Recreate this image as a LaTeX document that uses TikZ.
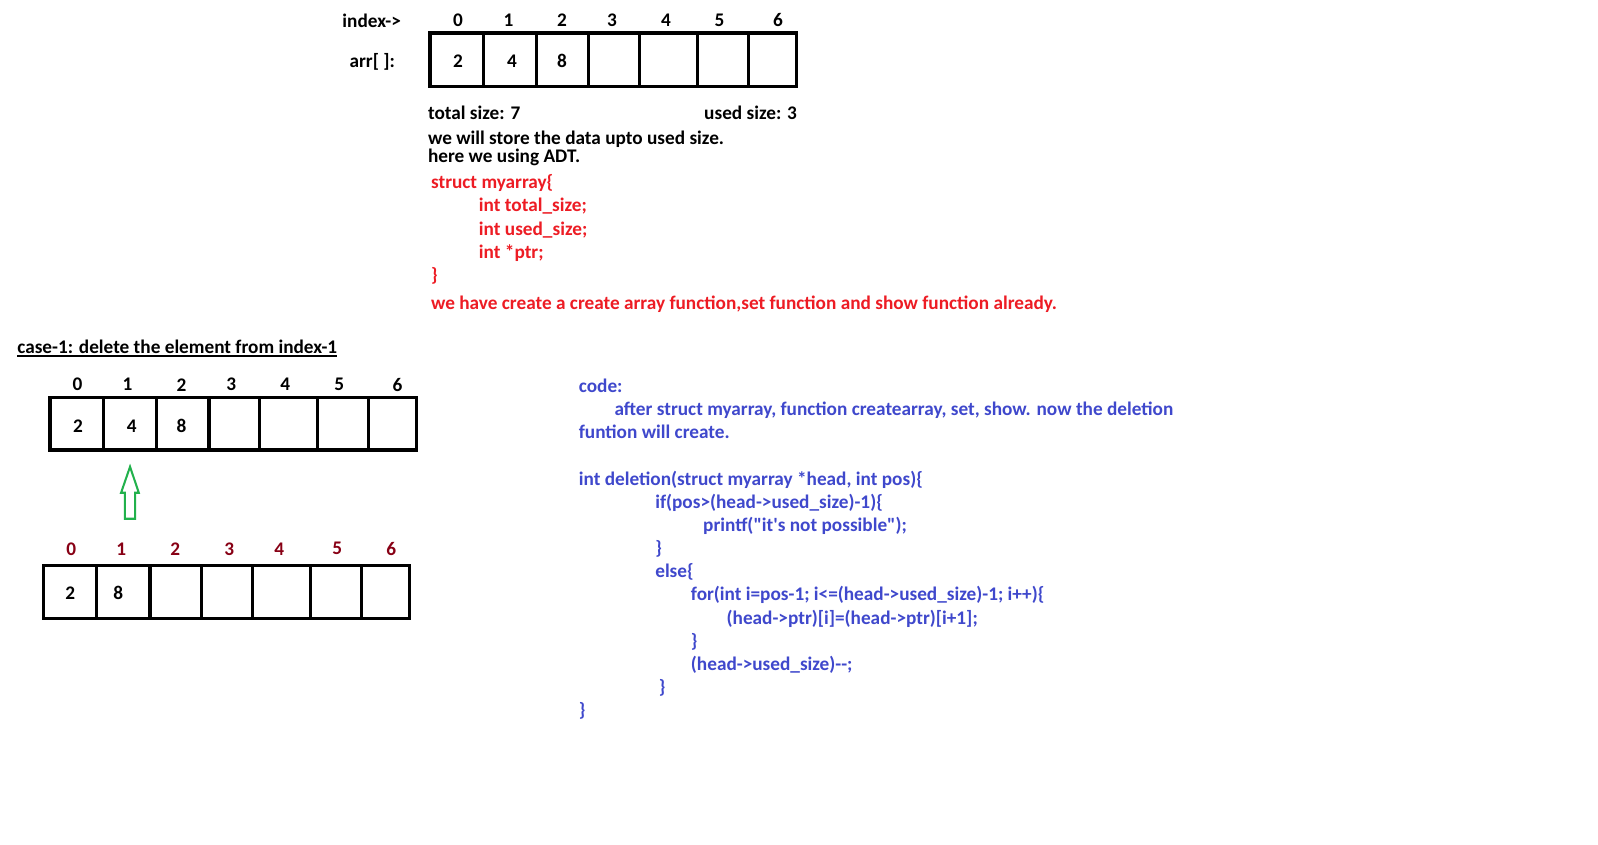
\documentclass[tikz,border=0pt]{standalone}
\usepackage{fontspec}
\newfontfamily\cb{Carlito}
\definecolor{pred}{RGB}{237,28,36}
\definecolor{pblue}{RGB}{63,72,204}
\definecolor{pdred}{RGB}{136,0,21}
\definecolor{pgreen}{RGB}{34,177,76}
\tikzset{
  every node/.style={inner sep=0pt, outer sep=0pt, font=\cb\fontsize{18.9}{22}\selectfont\bfseries},
  txt/.style={anchor=base west, yshift=-1.2pt},
  dig/.style={anchor=center},
  arrbox/.style={draw=black, line width=3.2pt},
  divline/.style={draw=black, line width=3pt},
  redtxt/.style={txt, text=pred},
  bluetxt/.style={txt, text=pblue},
  dredtxt/.style={dig, text=pdred},
}
\begin{document}
\begin{tikzpicture}[x=1pt,y=-1pt]
\useasboundingbox[fill=white] (0,0) rectangle (1568,829);

% ---------- top array ----------
\node[txt] (idxlbl) at (336,25.5) {index->};
\node[txt] (arrlbl) at (343,65) {arr[ ]:};
\foreach \x/\n in {449.5/0,499/1,551.5/2,600.6/3,653.6/4,706/5,763.5/6}{
  \node[dig] (ti\n) at (\x,19.5) {\n};
}
\draw[arrbox] (422,32.4) rectangle (781.8,85.1);
\foreach \x in {474.3,526.3,577.3,627.8,684.5,734.8}{
  \draw[divline] (\x,32.4) -- (\x,85.1);
}
\node[dig] (tv0) at (449.5,60) {2};
\node[dig] (tv1) at (502.5,60) {4};
\node[dig] (tv2) at (551.5,60) {8};

\node[txt] (tsize) at (420,116.5) {total size: 7};
\node[txt] (usize) at (691,116.5) {used size: 3};
\node[txt] (store) at (420,141) {we will store the data upto used size.};
\node[txt] (adt) at (420,158.5) {here we using ADT.};

\node[redtxt] (s1) at (423,184) {struct myarray\{};
\node[redtxt] (s2) at (470,206.8) {int total\_size;};
\node[redtxt] (s3) at (470,229.5) {int used\_size;};
\node[redtxt] (s4) at (470,252.3) {int *ptr;};
\node[redtxt] (s5) at (423,275) {\}};
\node[redtxt] (s6) at (423,302) {we have create a create array function,set function and show function already.};

% ---------- case 1 ----------
\node[txt] (case) at (17,345.5) {case-1: delete the element from index-1};
\draw[line width=1.4pt] (17,349.5) -- (330.4,349.5);

\foreach \x/\n in {76/0,125/1,178/2,227/3,280/4,333/5,390/6}{
  \node[dig] (mi\n) at (\x,377.5) {\n};
}
\draw[arrbox] (49,390.3) rectangle (408.9,441.6);
\foreach \x in {102,153.4,205.1,254.8,311.4,361.4}{
  \draw[divline] (\x,390.3) -- (\x,441.6);
}
\node[dig] (mv0) at (76.5,418) {2};
\node[dig] (mv1) at (129.2,418) {4};
\node[dig] (mv2) at (178,418) {8};

% green hollow arrow
\draw[pgreen, line width=2pt, line join=miter]
  (127.6,458) -- (136.2,483.5) -- (132.6,483.5) -- (132.6,509) -- (122.6,509)
  -- (122.6,483.5) -- (118.8,483.5) -- cycle;

\foreach \x/\n in {70/0,119/1,172/2,225/3,274/4,331/5,384/6}{
  \node[dredtxt] (bi\n) at (\x,538.5) {\n};
}
\draw[arrbox] (42.5,555.1) rectangle (402,607.2);
\foreach \x in {94.9,147.2,197.9,247.6,304.9,354.6}{
  \draw[divline] (\x,555.1) -- (\x,607.2);
}
\node[dig] (bv0) at (69,582) {2};
\node[dig] (bv1) at (116,582) {8};

% ---------- code ----------
\node[bluetxt] (c1) at (568,384) {code:};
\node[bluetxt] (c2) at (603,406.7) {after struct myarray, function createarray, set, show. now the deletion};
\node[bluetxt] (c3) at (568,429.4) {funtion will create.};
\node[bluetxt] (c4) at (568,475) {int deletion(struct myarray *head, int pos)\{};
\node[bluetxt] (c5) at (643,497.7) {if(pos>(head->used\_size)-1)\{};
\node[bluetxt] (c6) at (690,520.4) {printf("it's not possible");};
\node[bluetxt] (c7) at (643,543.1) {\}};
\node[bluetxt] (c8) at (643,565.8) {else\{};
\node[bluetxt] (c9) at (678,588.5) {for(int i=pos-1; i<=(head->used\_size)-1; i++)\{};
\node[bluetxt] (c10) at (713,611.2) {(head->ptr)[i]=(head->ptr)[i+1];};
\node[bluetxt] (c11) at (678,633.9) {\}};
\node[bluetxt] (c12) at (678,656.6) {(head->used\_size)-{}-;};
\node[bluetxt] (c13) at (646.5,679.3) {\}};
\node[bluetxt] (c14) at (568,702) {\}};
\end{tikzpicture}
\end{document}
